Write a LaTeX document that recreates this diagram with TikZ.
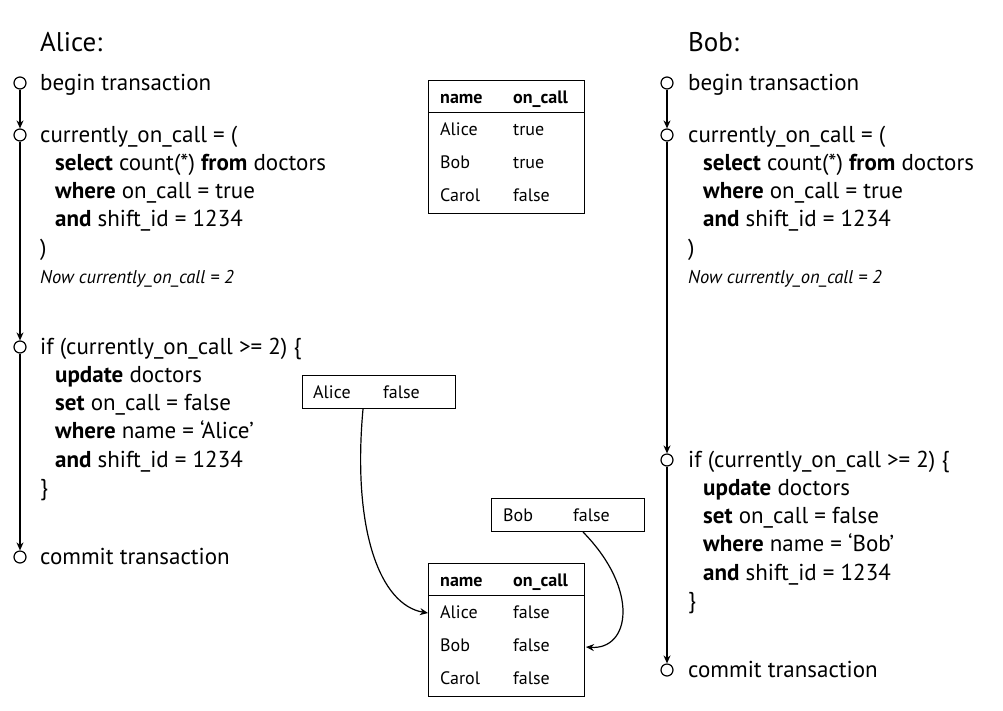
\documentclass[tikz,border=0pt]{standalone}
\usepackage{fontspec}
\setmainfont{PT Sans}
\usetikzlibrary{arrows.meta,positioning,calc}

% one table of doctors: name, top-left corner, values for Alice, Bob, Carol
\newcommand\doctable[5]{%
  \node[tbox, anchor=north west] (#1) at (#2) {};
  \node[cell, font=\tabfont\bfseries] (#1h1) at ($(#1.north west)+(12,23)$) {name};
  \node[cell, font=\tabfont\bfseries] (#1h2) at ($(#1.north west)+(85,23)$) {on\_call};
  \draw[thin line] ($(#1.north west)+(0,32)$) coordinate (#1l) -- (#1l -| #1.east);
  \node[cell] (#1a) at ($(#1.north west)+(12,55)$) {Alice};
  \node[cell] (#1av) at ($(#1.north west)+(85,55)$) {#3};
  \node[cell] (#1b) at ($(#1.north west)+(12,88)$) {Bob};
  \node[cell] (#1bv) at ($(#1.north west)+(85,88)$) {#4};
  \node[cell] (#1c) at ($(#1.north west)+(12,121)$) {Carol};
  \node[cell] (#1cv) at ($(#1.north west)+(85,121)$) {#5};
}
\newcommand\tabfont{\fontsize{18}{20}\selectfont}

\begin{document}
\begin{tikzpicture}[
  x=1pt, y=-1pt,
  >={Stealth[length=8pt,width=7pt]},
  every node/.style={inner sep=0pt},
  who/.style={anchor=base west, font=\fontsize{27}{30}\selectfont},
  % multi-line nodes: placed at the baseline of their last line
  code/.style={anchor=base west, align=left, font=\fontsize{23}{28.3}\selectfont},
  note/.style={anchor=base west, font=\fontsize{18.5}{20}\selectfont\itshape},
  evt/.style={circle, draw, line width=1.2pt, minimum size=12pt, fill=white},
  tl/.style={->, line width=1.2pt},
  tbox/.style={draw, line width=1pt, minimum width=156pt, minimum height=133pt},
  wbox/.style={draw, line width=1pt, minimum width=153pt, minimum height=33pt, anchor=north west},
  cell/.style={anchor=base west, font=\tabfont},
  thin line/.style={line width=1pt},
  upd/.style={->, line width=1.2pt},
]
\useasboundingbox (0,0) rectangle (1003,710);

% ---- Alice ----
\node[who] (alice) at (40,51) {Alice:};
\node[evt] (a0) at (20,83) {};
\node[evt] (a1) at (20,135) {};
\node[evt] (a2) at (20,347) {};
\node[evt] (a3) at (20,557) {};
\draw[tl] (a0) -- (a1);
\draw[tl] (a1) -- (a2);
\draw[tl] (a2) -- (a3);

\node[code] (abegin) at (40,90) {begin transaction};
\node[code] (aread) at (40,255.2)
  {currently\_on\_call = (\\
   \hspace*{15pt}\textbf{select} count(*) \textbf{from} doctors\\
   \hspace*{15pt}\textbf{where} on\_call = true\\
   \hspace*{15pt}\textbf{and} shift\_id = 1234\\
   )};
\node[note] (anote) at (40,283) {Now currently\_on\_call = 2};
\node[code] (aif) at (40,495.5)
  {if (currently\_on\_call >= 2) \{\\
   \hspace*{15pt}\textbf{update} doctors\\
   \hspace*{15pt}\textbf{set} on\_call = false\\
   \hspace*{15pt}\textbf{where} name = `Alice'\\
   \hspace*{15pt}\textbf{and} shift\_id = 1234\\
   \}};
\node[code] (acommit) at (40,564) {commit transaction};

% ---- Bob ----
\node[who] (bob) at (688,51) {Bob:};
\node[evt] (b0) at (667,83) {};
\node[evt] (b1) at (667,135) {};
\node[evt] (b2) at (667,460) {};
\node[evt] (b3) at (667,670) {};
\draw[tl] (b0) -- (b1);
\draw[tl] (b1) -- (b2);
\draw[tl] (b2) -- (b3);

\node[code] (bbegin) at (688,90) {begin transaction};
\node[code] (bread) at (688,255.2)
  {currently\_on\_call = (\\
   \hspace*{15pt}\textbf{select} count(*) \textbf{from} doctors\\
   \hspace*{15pt}\textbf{where} on\_call = true\\
   \hspace*{15pt}\textbf{and} shift\_id = 1234\\
   )};
\node[note] (bnote) at (688,283) {Now currently\_on\_call = 2};
\node[code] (bif) at (688,608.5)
  {if (currently\_on\_call >= 2) \{\\
   \hspace*{15pt}\textbf{update} doctors\\
   \hspace*{15pt}\textbf{set} on\_call = false\\
   \hspace*{15pt}\textbf{where} name = `Bob'\\
   \hspace*{15pt}\textbf{and} shift\_id = 1234\\
   \}};
\node[code] (bcommit) at (688,677) {commit transaction};

% ---- tables ----
\doctable{before}{428,80}{true}{true}{false}
\doctable{after}{428,563}{false}{false}{false}

% ---- writes ----
\node[wbox] (awrite) at (302,375) {};
\node[cell] (awn) at ($(awrite.north west)+(11,23)$) {Alice};
\node[cell] (awv) at ($(awrite.north west)+(81,23)$) {false};

\node[wbox] (bwrite) at (491,498) {};
\node[cell] (bwn) at ($(bwrite.north west)+(12,23)$) {Bob};
\node[cell] (bwv) at ($(bwrite.north west)+(82,23)$) {false};

\draw[upd] ([xshift=61pt]awrite.south west) .. controls (352,530) and (380,605) .. ($(after.north west)+(0,50)$);
\draw[upd] ([xshift=92pt]bwrite.south west) .. controls (640,590) and (630,650) .. ($(after.north east)+(1,84)$);

\end{tikzpicture}
\end{document}
